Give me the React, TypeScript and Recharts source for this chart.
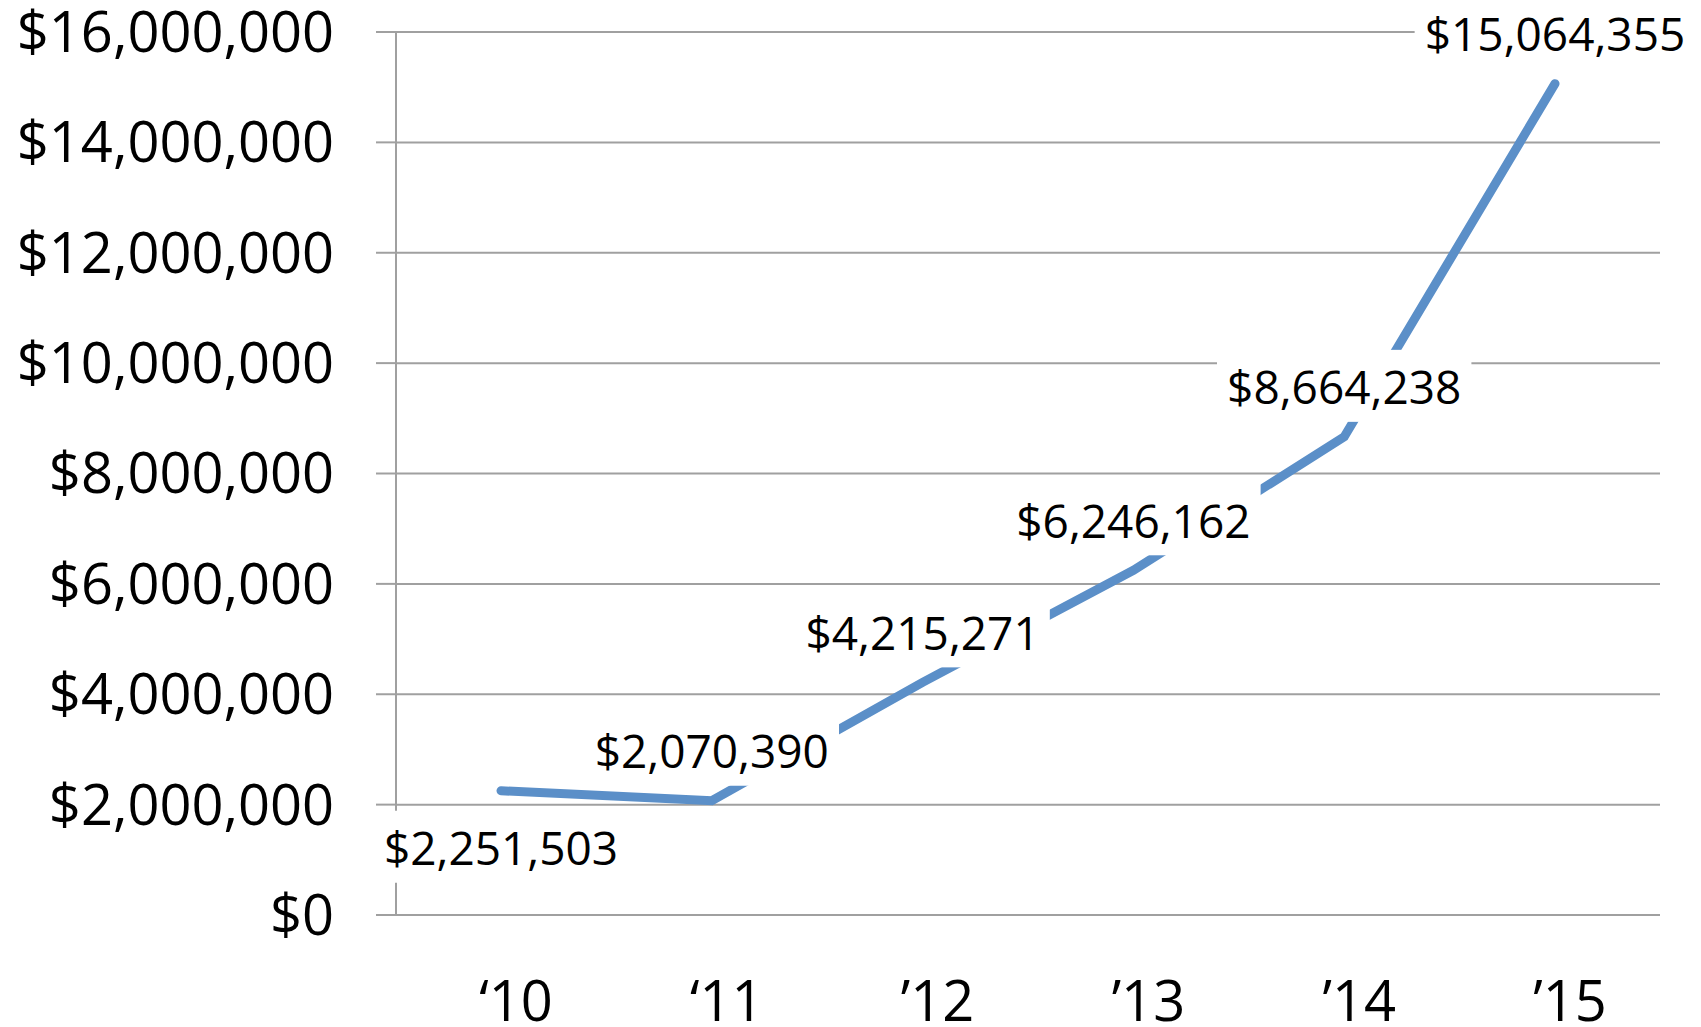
import { LineChart, Line, XAxis, YAxis, CartesianGrid, LabelList } from "recharts";

const years = ["\u201810", "\u201811", "\u201912", "\u201913", "\u201914", "\u201915"];
const revenue = [2251503, 2070390, 4215271, 6246162, 8664238, 15064355];
const yTicks = [0, 2000000, 4000000, 6000000, 8000000, 10000000, 12000000, 14000000, 16000000];

const data = years.map((year, i) => ({ year, revenue: revenue[i] }));

const FONT = "'Open Sans', sans-serif";
const GRID = "#a0a0a0";
const LINE = "#5b8fc8";

const money = (v: number) => "$" + v.toLocaleString("en-US");

// rough text width for Open Sans digits / $ / comma
const textWidth = (s: string, size: number) =>
  s.split("").reduce((w, c) => w + (c === "," ? 0.26 : 0.572), 0) * size;

const renderLabel = (props: any) => {
  const { x, y, value, index } = props;
  const size = 46;
  const text = money(value);
  const w = textWidth(text, size) + 20;
  const h = 72;
  // first point gets its label below the line, the rest above
  const cy = index === 0 ? y + 58 : y - 49;
  return (
    <g>
      <rect x={x - w / 2} y={cy - h / 2 - 2} width={w} height={h} fill="#fff" />
      <text
        x={x}
        y={cy + size * 0.357}
        textAnchor="middle"
        fontSize={size}
        fontFamily={FONT}
        fill="#000"
      >
        {text}
      </text>
    </g>
  );
};

export default function App() {
  return (
    <div
      style={{
        position: "absolute",
        left: 0,
        top: 0,
        width: 1701,
        height: 1027,
        background: "#fff",
      }}
    >
      <LineChart
        width={1701}
        height={1027}
        data={data}
        margin={{ top: 32, right: 41, bottom: 0, left: 0 }}
      >
        <CartesianGrid vertical={false} stroke={GRID} strokeWidth={2} />
        <XAxis
          dataKey="year"
          padding={{ left: 105, right: 105 }}
          axisLine={false}
          tickLine={false}
          tickSize={0}
          tickMargin={66}
          height={112}
          dx={15}
          tick={{ fontSize: 56, fontFamily: FONT, fill: "#000" }}
          interval={0}
        />
        <YAxis
          width={396}
          domain={[0, 16000000]}
          ticks={yTicks}
          tickFormatter={money}
          axisLine={{ stroke: GRID, strokeWidth: 2 }}
          tickLine={{ stroke: GRID, strokeWidth: 2 }}
          tickSize={20}
          tickMargin={42}
          tick={{ fontSize: 56, fontFamily: FONT, fill: "#000" }}
          interval={0}
        />
        <Line
          type="linear"
          dataKey="revenue"
          stroke={LINE}
          strokeWidth={9}
          strokeLinecap="round"
          dot={false}
          activeDot={false}
          isAnimationActive={false}
        >
          <LabelList dataKey="revenue" content={renderLabel} />
        </Line>
      </LineChart>
    </div>
  );
}
